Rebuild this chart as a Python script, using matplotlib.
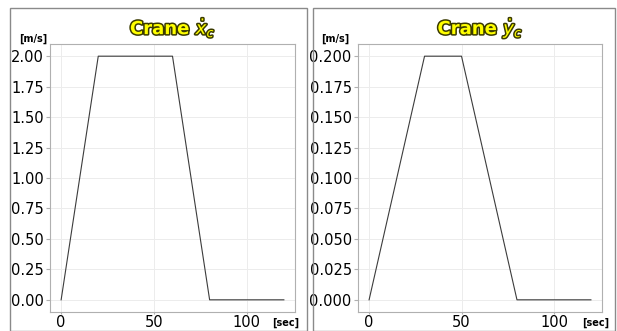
import numpy as np
import matplotlib.pyplot as plt
import matplotlib.patheffects as pe
from matplotlib.patches import Rectangle

# crane velocity profiles
t_x = [0, 20, 60, 80, 120]
v_x = [0, 2.0, 2.0, 0, 0]
t_y = [0, 30, 50, 80, 120]
v_y = [0, 0.2, 0.2, 0, 0]

W, H = 617, 331
fig = plt.figure(figsize=(W / 100, H / 100), dpi=100)

def px(x0, y0, x1, y1):
    # pixel box (top-left origin) -> figure fraction rect
    return [x0 / W, 1 - y1 / H, (x1 - x0) / W, (y1 - y0) / H]

# panel frames
for (x0, x1) in [(10.5, 307), (313, 615)]:
    fig.patches.append(Rectangle((x0 / W, 0), (x1 - x0) / W, 1 - 8 / H,
                                 transform=fig.transFigure, fill=False,
                                 edgecolor='#8a8a8a', linewidth=1.0))

panels = [
    (px(50, 44, 295, 312), t_x, v_x, r'Crane $\dot{x}_c$', np.arange(0, 2.01, 0.25), '%.2f', 33, 286),
    (px(358, 44, 602, 312), t_y, v_y, r'Crane $\dot{y}_c$', np.arange(0, 0.201, 0.025), '%.3f', 335, 596),
]

for rect, t, v, title, yt, fmt, mx, sx in panels:
    ax = fig.add_axes(rect)
    ax.plot(t, v, color='#3c3c3c', linewidth=0.8)
    ax.set_xticks([0, 50, 100])
    ax.set_yticks(yt)
    ax.set_yticklabels([fmt % y for y in yt])
    ax.tick_params(axis='y', length=3, width=0.8, pad=1.5, labelsize=10.5,
                   color='#b0b0b0', labelcolor='black')
    ax.tick_params(axis='x', length=1.5, width=0.8, pad=0.5, labelsize=10.5,
                   color='#b0b0b0', labelcolor='black')
    ax.grid(True, color='#ececec', linewidth=0.7)
    for s in ax.spines.values():
        s.set_color('#b0b0b0')
    ax.set_title(title, fontsize=13, fontweight='bold', color='#ffff00', pad=7,
                 path_effects=[pe.withStroke(linewidth=2.2, foreground='#3a3a00')])
    fig.text(mx / W, 1 - 39 / H, '[m/s]', fontsize=7, fontweight='bold',
             ha='center', va='center')
    fig.text(sx / W, 1 - 323 / H, '[sec]', fontsize=7, fontweight='bold',
             ha='center', va='center')

fig.savefig('out.png', dpi=100)
